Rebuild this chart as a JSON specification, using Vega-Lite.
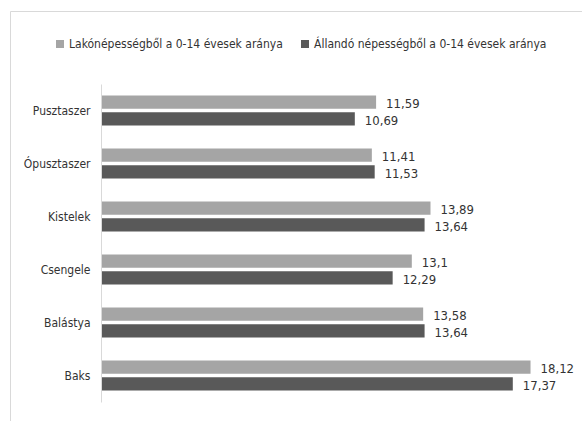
{
  "$schema": "https://vega.github.io/schema/vega-lite/v6.json",
  "width": 572,
  "height": 410,
  "autosize": {"type": "none"},
  "padding": {"left": 10, "top": 11, "right": 0, "bottom": 0},
  "background": "white",
  "config": {
    "view": {"stroke": "#d9d9d9", "strokeWidth": 1},
    "font": "DejaVu Sans Condensed, sans-serif",
    "locale": {"number": {"decimal": ",", "thousands": " ", "grouping": [3], "currency": ["", " Ft"]}}
  },
  "data": {
    "values": [
      {"telepules": "Pusztaszer", "sorozat": "Lakónépességből a 0-14 évesek aránya", "ertek": 11.59},
      {"telepules": "Pusztaszer", "sorozat": "Állandó népességből a 0-14 évesek aránya", "ertek": 10.69},
      {"telepules": "Ópusztaszer", "sorozat": "Lakónépességből a 0-14 évesek aránya", "ertek": 11.41},
      {"telepules": "Ópusztaszer", "sorozat": "Állandó népességből a 0-14 évesek aránya", "ertek": 11.53},
      {"telepules": "Kistelek", "sorozat": "Lakónépességből a 0-14 évesek aránya", "ertek": 13.89},
      {"telepules": "Kistelek", "sorozat": "Állandó népességből a 0-14 évesek aránya", "ertek": 13.64},
      {"telepules": "Csengele", "sorozat": "Lakónépességből a 0-14 évesek aránya", "ertek": 13.1},
      {"telepules": "Csengele", "sorozat": "Állandó népességből a 0-14 évesek aránya", "ertek": 12.29},
      {"telepules": "Balástya", "sorozat": "Lakónépességből a 0-14 évesek aránya", "ertek": 13.58},
      {"telepules": "Balástya", "sorozat": "Állandó népességből a 0-14 évesek aránya", "ertek": 13.64},
      {"telepules": "Baks", "sorozat": "Lakónépességből a 0-14 évesek aránya", "ertek": 18.12},
      {"telepules": "Baks", "sorozat": "Állandó népességből a 0-14 évesek aránya", "ertek": 17.37}
    ]
  },
  "encoding": {
    "y": {
      "field": "telepules",
      "type": "nominal",
      "sort": ["Pusztaszer", "Ópusztaszer", "Kistelek", "Csengele", "Balástya", "Baks"],
      "scale": {"range": [73, 391], "paddingInner": 0.43, "paddingOuter": 0.215},
      "axis": {
        "title": null,
        "offset": -91,
        "ticks": false,
        "domainColor": "#d9d9d9",
        "labelPadding": 11,
        "labelFontSize": 12,
        "labelColor": "#333333",
        "labelFont": "DejaVu Sans Condensed, sans-serif"
      }
    },
    "yOffset": {
      "field": "sorozat",
      "type": "nominal",
      "sort": ["Lakónépességből a 0-14 évesek aránya", "Állandó népességből a 0-14 évesek aránya"],
      "scale": {"paddingInner": 0.2}
    },
    "x": {
      "field": "ertek",
      "type": "quantitative",
      "scale": {"domain": [0, 20], "range": [92, 565]},
      "axis": null
    }
  },
  "layer": [
    {
      "mark": {"type": "bar"},
      "encoding": {
        "color": {
          "field": "sorozat",
          "type": "nominal",
          "sort": ["Lakónépességből a 0-14 évesek aránya", "Állandó népességből a 0-14 évesek aránya"],
          "scale": {"range": ["#a5a5a5", "#595959"]},
          "legend": {
            "title": null,
            "orient": "none",
            "direction": "horizontal",
            "legendX": 44,
            "legendY": 27,
            "padding": 0,
            "symbolType": "square",
            "symbolSize": 64,
            "symbolStrokeWidth": 0,
            "labelFontSize": 12,
            "labelOffset": 3,
            "columnPadding": 16,
            "labelColor": "#333333",
            "labelFont": "DejaVu Sans Condensed, sans-serif",
            "labelLimit": 400
          }
        }
      }
    },
    {
      "mark": {"type": "text", "align": "left", "baseline": "middle", "dx": 10, "dy": 2, "fontSize": 13, "color": "#333333"},
      "encoding": {
        "text": {"field": "ertek", "type": "quantitative", "format": ".4~r"}
      }
    }
  ]
}
